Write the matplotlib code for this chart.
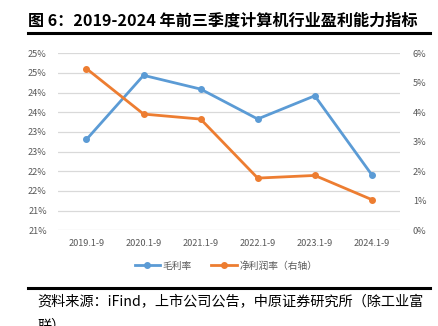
import matplotlib
matplotlib.use("Agg")
import matplotlib.pyplot as plt
import numpy as np

plt.rcParams['font.family'] = ['Noto Sans CJK SC', 'DejaVu Sans']

periods = ["2019.1-9", "2020.1-9", "2021.1-9", "2022.1-9", "2023.1-9", "2024.1-9"]
gross_margin = [22.81, 24.44, 24.09, 23.33, 23.92, 21.91]   # 毛利率, %
net_margin = [5.48, 3.94, 3.77, 1.77, 1.86, 1.04]           # 净利润率, %
left_ticks = [20.5, 21.0, 21.5, 22.0, 22.5, 23.0, 23.5, 24.0, 24.5, 25.0]
left_tick_labels = ["21%", "21%", "22%", "22%", "23%", "23%", "24%", "24%", "25%", "25%"]
right_ticks = [0, 1, 2, 3, 4, 5, 6]
right_tick_labels = ["0%", "1%", "2%", "3%", "4%", "5%", "6%"]

blue = "#5B9BD5"
orange = "#ED7D31"
grey = "#595959"

fig = plt.figure(figsize=(4.39, 3.26), dpi=100)
ax = fig.add_axes([0.132, 0.2935, 0.780, 0.543])
ax2 = ax.twinx()

x = np.arange(len(periods))
l1, = ax.plot(x, gross_margin, color=blue, lw=2.0, marker='o', ms=4, label="毛利率")
l2, = ax2.plot(x, net_margin, color=orange, lw=2.0, marker='o', ms=4, label="净利润率（右轴）")

ax.set_xlim(-0.5, len(periods) - 0.5)
ax.set_ylim(20.5, 25.0)
ax2.set_ylim(0, 6)
ax.set_yticks(left_ticks)
ax.set_yticklabels(left_tick_labels)
ax2.set_yticks(right_ticks)
ax2.set_yticklabels(right_tick_labels)
ax.set_xticks(x)
ax.set_xticklabels(periods)

ax.grid(axis='y', color="#d9d9d9", lw=0.9)
ax.set_axisbelow(True)
for a in (ax, ax2):
    for s in a.spines.values():
        s.set_visible(False)
    a.tick_params(length=0, labelsize=6.6, labelcolor=grey)
ax.tick_params(axis='y', pad=8)
ax2.tick_params(axis='y', pad=9)
ax.tick_params(axis='x', pad=6)

fig.legend([l1, l2], ["毛利率", "净利润率（右轴）"], loc='center', bbox_to_anchor=(0.515, 0.185),
           ncol=2, frameon=False, fontsize=7, labelcolor=grey, handlelength=2.6,
           columnspacing=2.0, handletextpad=0.3)

fig.text(0.064, 0.938, "图 6：2019-2024 年前三季度计算机行业盈利能力指标",
         fontsize=11.6, fontweight='heavy', ha='left', va='center', color='black')
fig.add_artist(plt.Line2D([0.064, 0.979], [0.898, 0.898], color='black', lw=2.2,
                          transform=fig.transFigure))
fig.add_artist(plt.Line2D([0.064, 0.979], [0.118, 0.118], color='black', lw=2.2,
                          transform=fig.transFigure))
fig.text(0.086, 0.073, "资料来源：iFind，上市公司公告，中原证券研究所（除工业富",
         fontsize=10.2, ha='left', va='center', color='black')
fig.text(0.086, 0.0, "联）", fontsize=10.2, ha='left', va='center', color='black')

fig.savefig("out.png", dpi=100)
